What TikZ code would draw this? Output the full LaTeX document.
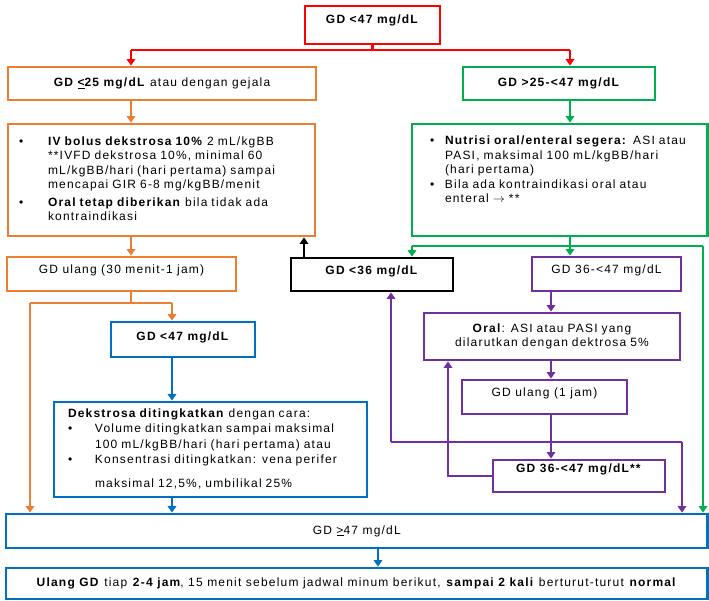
\documentclass[tikz,border=0pt]{standalone}
\usepackage{fontspec}
\setmainfont{Liberation Sans}[LetterSpace=10]
\usetikzlibrary{arrows.meta}

\definecolor{merah}{RGB}{255,0,0}
\definecolor{oranye}{RGB}{237,125,49}
\definecolor{hijau}{RGB}{0,176,80}
\definecolor{biru}{RGB}{0,112,192}
\definecolor{ungu}{RGB}{112,48,160}

\tikzset{
	flowbox/.style={draw, line width=2.8pt, inner sep=0pt,
		font=\fontsize{12}{14.5}\selectfont},
	link/.style={line width=2.8pt},
	arr/.style={-{Triangle[length=6.5pt,width=8.5pt]}}
}

\begin{document}
\begin{tikzpicture}[x=1pt,y=-1pt]
	\useasboundingbox (0,0) rectangle (709,601);
	
	% top
	\node[flowbox, draw=merah,
	minimum width=135pt, minimum height=38pt,
	text depth=11pt] (top) at (372.5,25) {\textbf{GD <47 mg/dL}};
	
	% two branches
	\node[flowbox, draw=oranye,
	minimum width=308pt, minimum height=33pt] (low) at (162,83.5)
	{\textbf{GD \underline{<}25 mg/dL} atau dengan gejala};
	\node[flowbox, draw=hijau,
	minimum width=192pt, minimum height=33pt] (mid) at (559,83.5)
	{\textbf{GD >25-<47 mg/dL}};
	
	\node[flowbox, draw=oranye,
	minimum width=307pt, minimum height=112pt,
	inner xsep=11pt, text width=285pt, align=left] (ivbox) at (161.5,180)
	{\begin{tabular}{@{}p{29pt}@{}l@{}}
		\textbullet & \textbf{IV bolus dekstrosa 10\%} 2 mL/kgBB\\
		& **IVFD dekstrosa 10\%, minimal 60\\
		& mL/kgBB/hari (hari pertama) sampai\\
		& mencapai GIR 6-8 mg/kgBB/menit\\[3pt]
		\textbullet & \textbf{Oral tetap diberikan} bila tidak ada\\
		& kontraindikasi
	\end{tabular}};
	\node[flowbox, draw=hijau,
	minimum width=295.5pt, minimum height=112pt,
	inner xsep=18pt, text width=259.5pt, align=left] (nutri) at (559.75,180)
	{\begin{tabular}{@{}p{15pt}@{}l@{}}
		\textbullet & \textbf{Nutrisi oral/enteral segera:} ASI atau\\
		& PASI, maksimal 100 mL/kgBB/hari\\
		& (hari pertama)\\
		\textbullet & Bila ada kontraindikasi oral atau\\
		& enteral $\rightarrow$ **\\[18pt]
	\end{tabular}};
	
	% second row
	\node[flowbox, draw=oranye,
	minimum width=229pt, minimum height=34pt,
	text depth=10pt] (ulang30) at (121.5,274) {GD ulang (30 menit-1 jam)};
	\node[flowbox, draw=black,
	minimum width=162pt, minimum height=33pt,
	text depth=9pt] (gd36) at (372,274.5) {\textbf{GD <36 mg/dL}};
	\node[flowbox, draw=ungu,
	minimum width=149pt, minimum height=34pt,
	text depth=9pt] (gd3647) at (606.5,274) {GD 36-<47 mg/dL};
	
	\node[flowbox, draw=ungu,
	minimum width=256pt, minimum height=47pt,
	text width=250pt, align=center] (oral) at (552,336.5)
	{\textbf{Oral}: ASI atau PASI yang\\dilarutkan dengan dektrosa 5\%};
	\node[flowbox, draw=ungu,
	minimum width=165pt, minimum height=34pt,
	text depth=10pt] (ulang1) at (544.5,397) {GD ulang (1 jam)};
	\node[flowbox, draw=ungu,
	minimum width=172pt, minimum height=32pt,
	text depth=15pt] (gd3647b) at (579,476) {\textbf{GD 36-<47 mg/dL**}};
	
	\node[flowbox, draw=biru,
	minimum width=144pt, minimum height=35pt,
	text depth=7pt] (blue1) at (183,339.5) {\textbf{GD <47 mg/dL}};
	\node[flowbox, draw=biru,
	minimum width=313pt, minimum height=95pt,
	inner xsep=14pt, text width=285pt, align=left] (blue2) at (210.5,449.5)
	{\begin{tabular}{@{}p{27pt}@{}l@{}}
		\multicolumn{2}{@{}l@{}}{\textbf{Dekstrosa ditingkatkan} dengan cara:}\\[1pt]
		\textbullet & Volume ditingkatkan sampai maksimal\\[1pt]
		& 100 mL/kgBB/hari (hari pertama) atau\\[1pt]
		\textbullet & Konsentrasi ditingkatkan: vena perifer\\[9pt]
		& maksimal 12,5\%, umbilikal 25\%
	\end{tabular}};
	
	% bottom
	\node[flowbox, draw=biru,
	minimum width=701.5pt, minimum height=34pt] (bottom1) at (356.75,531)
	{GD \underline{>}47 mg/dL};
	\node[flowbox, draw=biru,
	minimum width=701.5pt, minimum height=31pt] (bottom2) at (356.75,583.5)
	{\textbf{Ulang GD} tiap \textbf{2-4 jam}, 15 menit sebelum jadwal minum berikut, \textbf{sampai 2 kali} berturut-turut \textbf{normal}};
	
	% elbows
	\coordinate (r1) at (131,50);
	\coordinate (r2) at (570,50);
	\coordinate (g1) at (412,246);
	\coordinate (g2) at (703,246);
	\coordinate (k1) at (304,246);
	\coordinate (o1) at (30,303);
	\coordinate (o2) at (172,303);
	\coordinate (p1) at (551,442);
	\coordinate (p2) at (391,442);
	\coordinate (p3) at (682,442);
	\coordinate (p4) at (448,476);
	\coordinate (p5) at (378,556);
	
	% red
	\draw[link, merah] (top.south) -- (top.south |- r1);
	\draw[link, merah] (r1) -- (r2);
	\draw[link, merah, arr] (r1) -- (r1 |- low.north);
	\draw[link, merah, arr] (r2) -- (r2 |- mid.north);
	
	% orange
	\draw[link, oranye, arr] (r1 |- low.south) -- (r1 |- ivbox.north);
	\draw[link, oranye, arr] (r1 |- ivbox.south) -- (r1 |- ulang30.north);
	\draw[link, oranye] (r1 |- ulang30.south) -- (r1 |- o1);
	\draw[link, oranye] (o1) -- (o2);
	\draw[link, oranye, arr] (o1) -- (o1 |- bottom1.north);
	\draw[link, oranye, arr] (o2) -- (o2 |- blue1.north);
	
	% green
	\draw[link, hijau, arr] (r2 |- mid.south) -- (r2 |- nutri.north);
	\draw[link, hijau] (r2 |- nutri.south) -- (r2 |- g1);
	\draw[link, hijau] (g1) -- (g2);
	\draw[link, hijau, arr] (g1) -- (g1 |- gd36.north);
	\draw[link, hijau, arr] (r2 |- g1) -- (r2 |- gd3647.north);
	\draw[link, hijau, arr] (g2) -- (g2 |- bottom1.north);
	
	% black
	\draw[link, black, arr] (k1 |- gd36.north) -- (k1 |- ivbox.south);
	
	% blue
	\draw[link, biru, arr] (o2 |- blue1.south) -- (o2 |- blue2.north);
	\draw[link, biru, arr] (o2 |- blue2.south) -- (o2 |- bottom1.north);
	\draw[link, biru, arr] (p5 |- bottom1.south) -- (p5 |- bottom2.north);
	
	% purple
	\draw[link, ungu, arr] (p1 |- gd3647.south) -- (p1 |- oral.north);
	\draw[link, ungu, arr] (p1 |- oral.south) -- (p1 |- ulang1.north);
	\draw[link, ungu, arr] (p1 |- ulang1.south) -- (p1 |- gd3647b.north);
	\draw[link, ungu] (p2) -- (p3);
	\draw[link, ungu, arr] (p2) -- (p2 |- gd36.south);
	\draw[link, ungu, arr] (p3) -- (p3 |- bottom1.north);
	\draw[link, ungu, arr] (gd3647b.west) -- (p4) -- (p4 |- oral.south);
	
\end{tikzpicture}
\end{document}
